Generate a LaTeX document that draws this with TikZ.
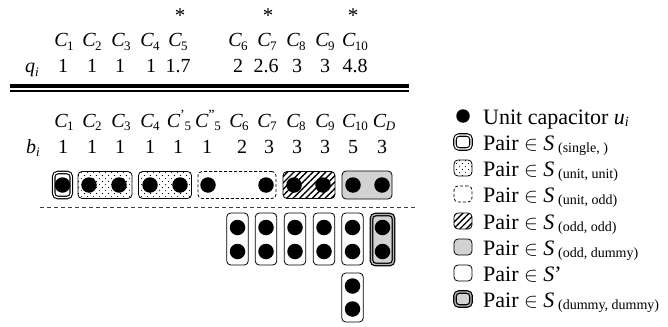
\documentclass[tikz,border=0pt]{standalone}
\usepackage{fontspec}
\setmainfont{Liberation Serif}
\usetikzlibrary{patterns.meta}
\tikzdeclarepattern{
  name=sparsedots,
  type=uncolored,
  bottom left={(-1pt,-1pt)}, top right={(6pt,6pt)},
  tile size={(6pt,6pt)},
  code={\fill (0.5pt,0.5pt) circle (0.55pt); \fill (3.5pt,3.3pt) circle (0.55pt);}
}
\newcommand{\subs}[1]{\raisebox{-0.17em}{\fontsize{13}{13}\selectfont #1}}
\newcommand{\lsubs}[1]{\raisebox{-0.12em}{\fontsize{14}{14}\selectfont #1}}
\newcommand{\Cl}[1]{\textit{C}\kern-0.6pt\subs{#1}}
\newcommand{\Cpr}[2]{\textit{C}\kern-0.2pt\raisebox{0.36em}{\fontsize{14}{14}\selectfont #2}\kern-0.3pt\subs{#1}}
\tikzset{
  tabtxt/.style={font=\fontsize{20}{24}\selectfont, inner sep=0, anchor=base},
  legtxt/.style={font=\fontsize{22}{26}\selectfont, inner sep=0, anchor=base west},
  star/.style={font=\fontsize{21}{21}\selectfont, inner sep=0},
  unitdot/.style={circle, fill=black, inner sep=0, minimum size=15.5pt},
  legdot/.style={circle, fill=black, inner sep=0, minimum size=13.5pt},
  pbox/.style={rectangle, rounded corners=4pt, draw=black, line width=0.8pt, inner sep=0},
  singlebox/.style={pbox, double=white, double distance=1.4pt, line width=1.1pt},
  dotbox/.style={pbox, pattern=sparsedots},
  dashbox/.style={pbox, dash pattern=on 3pt off 2pt},
  hatchbox/.style={pbox, pattern={Lines[angle=45,distance=4.5pt,line width=1.4pt]}},
  graybox/.style={pbox, fill=gray!35},
  dummybox/.style={pbox, fill=gray!35, double=gray!60, double distance=1.4pt, line width=1.2pt},
  legbox/.style={minimum width=18pt, minimum height=16pt},
}
\begin{document}
\begin{tikzpicture}[x=1pt,y=-1pt]
\useasboundingbox (0,0) rectangle (668,326);
% ---- top table ----
\node[star] (s5) at (180,16) {*};
\node[star] (s7) at (268,16) {*};
\node[star] (s10) at (353,16) {*};
\node[tabtxt] (t1) at (64,47) {\Cl{1}};
\node[tabtxt] (t2) at (92,47) {\Cl{2}};
\node[tabtxt] (t3) at (121,47) {\Cl{3}};
\node[tabtxt] (t4) at (150,47) {\Cl{4}};
\node[tabtxt] (t5) at (178,47) {\Cl{5}};
\node[tabtxt] (t6) at (238,47) {\Cl{6}};
\node[tabtxt] (t7) at (267,47) {\Cl{7}};
\node[tabtxt] (t8) at (296,47) {\Cl{8}};
\node[tabtxt] (t9) at (325,47) {\Cl{9}};
\node[tabtxt] (t10) at (355,47) {\Cl{10}};
\node[tabtxt] (q) at (32,73) {\textit{q}\subs{\textit{i}}};
\node[tabtxt] (q1) at (63,73) {1};
\node[tabtxt] (q2) at (92,73) {1};
\node[tabtxt] (q3) at (120,73) {1};
\node[tabtxt] (q4) at (151,73) {1};
\node[tabtxt] (q5) at (178,73) {1.7};
\node[tabtxt] (q6) at (238,73) {2};
\node[tabtxt] (q7) at (266,73) {2.6};
\node[tabtxt] (q8) at (297,73) {3};
\node[tabtxt] (q9) at (325,73) {3};
\node[tabtxt] (q10) at (355,73) {4.8};
% ---- double rule ----
\coordinate (r1a) at (10,86); \coordinate (r1b) at (409,86);
\coordinate (r2a) at (10,91.5); \coordinate (r2b) at (409,91.5);
\draw[line width=3.2pt] (r1a) -- (r1b);
\draw[line width=2pt] (r2a) -- (r2b);
% ---- second table ----
\node[tabtxt] (c1) at (64,127) {\Cl{1}};
\node[tabtxt] (c2) at (92,127) {\Cl{2}};
\node[tabtxt] (c3) at (121,127) {\Cl{3}};
\node[tabtxt] (c4) at (150,127) {\Cl{4}};
\node[tabtxt] (c5a) at (179,127) {\Cpr{5}{’}};
\node[tabtxt] (c5b) at (208,127) {\Cpr{5}{”}};
\node[tabtxt] (c6) at (239,127) {\Cl{6}};
\node[tabtxt] (c7) at (267,127) {\Cl{7}};
\node[tabtxt] (c8) at (296,127) {\Cl{8}};
\node[tabtxt] (c9) at (325,127) {\Cl{9}};
\node[tabtxt] (c10) at (355,127) {\Cl{10}};
\node[tabtxt] (cD) at (384,127) {\Cl{\textit{D}}};
\node[tabtxt] (b) at (33,153) {\textit{b}\subs{\textit{i}}};
\node[tabtxt] (b1) at (63,153) {1};
\node[tabtxt] (b2) at (92,153) {1};
\node[tabtxt] (b3) at (120,153) {1};
\node[tabtxt] (b4) at (150,153) {1};
\node[tabtxt] (b5a) at (178,153) {1};
\node[tabtxt] (b5b) at (207,153) {1};
\node[tabtxt] (b6) at (242,153) {2};
\node[tabtxt] (b7) at (269,153) {3};
\node[tabtxt] (b8) at (297,153) {3};
\node[tabtxt] (b9) at (325,153) {3};
\node[tabtxt] (b10) at (353,153) {5};
\node[tabtxt] (bD) at (382,153) {3};
% ---- pair boxes, first row ----
\node[singlebox, minimum width=17.5pt, minimum height=25pt] (p1) at (62.5,185) {};
\node[dotbox, minimum width=54pt, minimum height=27pt] (p2) at (105,185) {};
\node[dotbox, minimum width=53pt, minimum height=27pt] (p3) at (165,185) {};
\node[dashbox, minimum width=78pt, minimum height=27pt] (p4) at (237,185) {};
\node[hatchbox, minimum width=52pt, minimum height=27pt] (p5) at (309,185) {};
\node[graybox, minimum width=50pt, minimum height=28pt] (p6) at (367,185) {};
\foreach \n/\x in {d1/62.5, d2/89, d3/119, d4/150, d5/180, d6/208, d7/266, d8/294, d9/323, d10/353, d11/382}
  \node[unitdot] (\n) at (\x,185) {};
% ---- separator ----
\coordinate (sepL) at (40,207); \coordinate (sepR) at (415,207);
\draw[black!75, line width=0.7pt, dash pattern=on 4pt off 3pt] (sepL) -- (sepR);
% ---- vertical pairs ----
\foreach \n/\x in {v1/237.5, v2/266, v3/295, v4/324, v5/352.5}{
  \node[pbox, minimum width=21.5pt, minimum height=52pt] (\n) at (\x,239) {};
  \node[unitdot] (\n t) at (\x,227.5) {};
  \node[unitdot] (\n b) at (\x,251.5) {};
}
\node[dummybox, minimum width=22pt, minimum height=50pt] (v6) at (382.5,239.5) {};
\node[unitdot] (v6t) at (382.5,227.5) {};
\node[unitdot] (v6b) at (382.5,251.5) {};
\node[pbox, minimum width=21.5pt, minimum height=49pt] (v7) at (352.5,297.5) {};
\node[unitdot] (v7t) at (352.5,286) {};
\node[unitdot] (v7b) at (352.5,309) {};
% ---- legend ----
\node[legdot] (l0) at (463,116) {};
\node[singlebox, legbox, minimum width=16pt, minimum height=14pt] (l1) at (463,142) {};
\node[dotbox, legbox] (l2) at (463,168) {};
\node[dashbox, legbox] (l3) at (463,194) {};
\node[hatchbox, legbox] (l4) at (463,221) {};
\node[graybox, legbox] (l5) at (463,247) {};
\node[pbox, legbox] (l6) at (463,273) {};
\node[dummybox, legbox, minimum width=16pt, minimum height=14pt] (l7) at (463,299) {};
\node[legtxt] (lt0) at (483,124) {Unit capacitor \textit{u}\lsubs{\textit{i}}};
\node[legtxt] (lt1) at (483,150) {Pair $\in$ \textit{S}\,\lsubs{(single, )}};
\node[legtxt] (lt2) at (483,176) {Pair $\in$ \textit{S}\,\lsubs{(unit, unit)}};
\node[legtxt] (lt3) at (483,202) {Pair $\in$ \textit{S}\,\lsubs{(unit, odd)}};
\node[legtxt] (lt4) at (483,229) {Pair $\in$ \textit{S}\,\lsubs{(odd, odd)}};
\node[legtxt] (lt5) at (483,255) {Pair $\in$ \textit{S}\,\lsubs{(odd, dummy)}};
\node[legtxt] (lt6) at (483,281) {Pair $\in$ \textit{S}’};
\node[legtxt] (lt7) at (483,307) {Pair $\in$ \textit{S}\,\lsubs{(dummy, dummy)}};
\end{tikzpicture}
\end{document}
